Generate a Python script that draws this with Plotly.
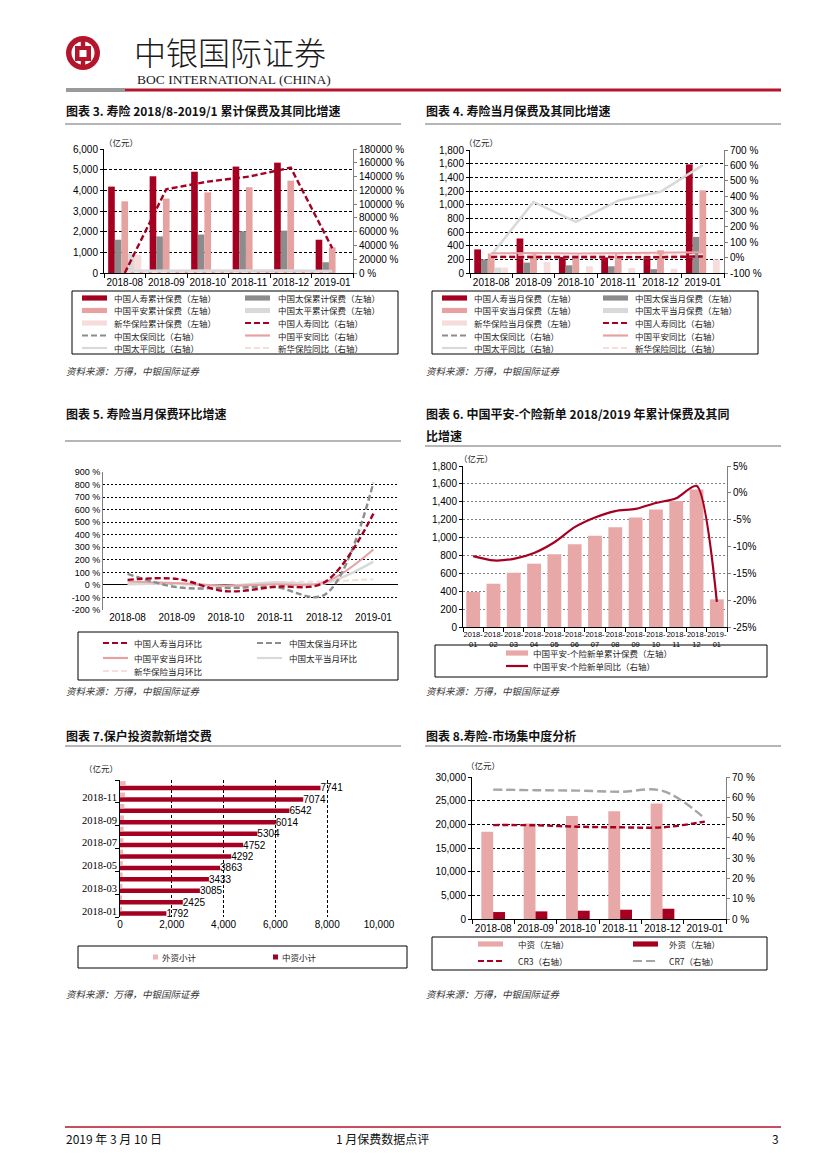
import plotly.graph_objects as go

W, H = 827, 1169
OFF = 8  # page body margin of the html page
def px(x): return (x - OFF) / W
def py(y): return 1 - (y - OFF) / H

RED = "#A50021"
GRAY = "#8C8C8C"
PINK = "#E6A1A1"
LGRAY = "#D9D9D9"
LPINK = "#F7DCDC"
CJK = "Noto Sans CJK SC"
NUM = "Liberation Sans Narrow, Liberation Sans, Arial"
SERIF = "Liberation Serif, Times New Roman, serif"

# ---------------- data ----------------
months6 = ["2018-08", "2018-09", "2018-10", "2018-11", "2018-12", "2019-01"]

# Chart 3: cumulative premiums (left, 亿元) and YoY (right, %)
c3_life = [4180, 4680, 4900, 5150, 5340, 1610]
c3_cpic = [1610, 1770, 1860, 2020, 2050, 520]
c3_pingan = [3470, 3600, 3900, 4150, 4470, 1240]
c3_taiping = [950, None, None, None, None, None]
c3_nci = [880, None, None, None, None, None]
c3_life_yoy = [0, 121600, 132700, 140000, 153000, 36000]
c3_cpic_yoy = [300, 300, 250, 300, 350, 150]
c3_pingan_yoy = [1500, 1800, 1700, 1600, 1500, 1200]
c3_taiping_yoy = [3200, 3600, 3400, 3500, 3600, 2800]
c3_nci_yoy = [600, 700, 650, 700, 700, 500]
c3_names = ["中国人寿累计保费（左轴）", "中国太保累计保费（左轴）", "中国平安累计保费（左轴）",
            "中国太平累计保费（左轴）", "新华保险累计保费（左轴）", "中国人寿同比（右轴）",
            "中国太保同比（右轴）", "中国平安同比（右轴）", "中国太平同比（右轴）", "新华保险同比（右轴）"]

# Chart 4: monthly premiums and YoY
c4_life = [345, 505, 235, 228, 245, 1590]
c4_cpic = [200, 152, 113, 98, 56, 528]
c4_pingan = [285, 308, 272, 292, 332, 1210]
c4_taiping = [80, None, None, None, None, None]
c4_nci = [80, 160, 98, 73, 64, 200]
c4_life_yoy = [5, 4, 3, 4, 3, 8]
c4_cpic_yoy = [2, 0, 1, 2, 1, 5]
c4_pingan_yoy = [28, 30, 27, 30, 32, 35]
c4_taiping_yoy = [15, 362, 232, 370, 428, 602]
c4_nci_yoy = [15, 14, 16, 17, 16, 20]
c4_names = ["中国人寿当月保费（左轴）", "中国太保当月保费（左轴）", "中国平安当月保费（左轴）",
            "中国太平当月保费（左轴）", "新华保险当月保费（左轴）", "中国人寿同比（右轴）",
            "中国太保同比（右轴）", "中国平安同比（右轴）", "中国太平同比（右轴）", "新华保险同比（右轴）"]
c4_rtickvals = [-100, 0, 100, 200, 300, 400, 500, 600, 700]
c4_rticktext = ["-100 %", "0%", "100 %", "200 %", "300 %", "400 %", "500 %", "600 %", "700 %"]

# Chart 5: month-on-month growth (%)
c5_life = [40, 48, -50, -15, 20, 568]
c5_cpic = [88, -18, -25, -18, -80, 815]
c5_pingan = [28, 15, -5, 5, 20, 283]
c5_taiping = [5, 10, -8, 22, 12, 185]
c5_nci = [12, 5, -10, 20, 28, 45]
c5_names = ["中国人寿当月环比", "中国太保当月环比", "中国平安当月环比", "中国太平当月环比", "新华保险当月环比"]
c5_tickvals = [-200, -100, 0, 100, 200, 300, 400, 500, 600, 700, 800, 900]
c5_ticktext = ["-200 %", "-100 %", "0 %", "100 %", "200 %", "300 %", "400 %", "500 %",
               "600 %", "700 %", "800 %", "900 %"]

# Chart 6: Ping An individual new business
months13 = ["2018-01", "2018-02", "2018-03", "2018-04", "2018-05", "2018-06", "2018-07",
            "2018-08", "2018-09", "2018-10", "2018-11", "2018-12", "2019-01"]
c6_prem = [391, 484, 607, 708, 812, 924, 1020, 1114, 1225, 1315, 1408, 1538, 309]
c6_yoy = [-11.8, -12.6, -12.3, -11.2, -9.2, -6.4, -4.6, -3.4, -3.0, -1.9, -1.0, 1.3, -20.3]
c6_names = ["中国平安-个险新单累计保费（左轴）", "中国平安-个险新单同比（右轴）"]
c6_rtickvals = [-25, -20, -15, -10, -5, 0, 5]
c6_rticktext = ["-25%", "-20%", "-15%", "-10%", "-5%", "0%", "5%"]

# Chart 7: new contributions to policyholder investment
months12 = months13[:12]
c7_domestic = [1792, 2425, 3085, 3433, 3863, 4292, 4752, 5304, 6014, 6542, 7074, 7741]
c7_foreign = [70, 80, 90, 100, 110, 120, 130, 140, 150, 170, 190, 220]
c7_names = ["外资小计", "中资小计"]

# Chart 8: market concentration
c8_domestic = [18440, 20200, 21740, 22790, 24400, None]
c8_foreign = [1470, 1610, 1750, 1960, 2170, None]
c8_cr3 = [46.3, 46.2, 45.5, 45.2, 45.2, 48.0]
c8_cr7 = [63.8, 63.5, 63.3, 62.7, 63.2, 49.6]
c8_names = ["中资（左轴）", "外资（左轴）", "CR3（右轴）", "CR7（右轴）"]

# ---------------- figure ----------------
fig = go.Figure()
shapes, annos = [], []

def bar(x, y, color, xa, ya, **kw):
    fig.add_trace(go.Bar(x=x, y=y, marker=dict(color=color, line=dict(width=0)),
                         xaxis=xa, yaxis=ya, showlegend=False, **kw))

def line(x, y, color, dash, xa, ya, width=2, shape="linear", smoothing=1.0):
    fig.add_trace(go.Scatter(x=x, y=y, mode="lines",
                             line=dict(color=color, dash=dash, width=width, shape=shape,
                                       smoothing=smoothing),
                             xaxis=xa, yaxis=ya, showlegend=False))

def rect(x0, y0, x1, y1, fill=None, color=None, width=0, shape="rect"):
    shapes.append(dict(type=shape, xref="paper", yref="paper", x0=px(x0), x1=px(x1),
                       y0=py(y1), y1=py(y0), fillcolor=fill if fill else "rgba(0,0,0,0)",
                       line=dict(color=color if color else "rgba(0,0,0,0)", width=width),
                       layer="above"))

def seg(x0, y0, x1, y1, color, width=1, dash="solid"):
    shapes.append(dict(type="line", xref="paper", yref="paper", x0=px(x0), x1=px(x1),
                       y0=py(y0), y1=py(y1), line=dict(color=color, width=width, dash=dash),
                       layer="above"))

def txt(x, y, s, size=9, anchor="left", family=CJK, color="#000", weight=None, style=None):
    f = dict(family=family, size=size, color=color)
    if weight: f["weight"] = weight
    if style: f["style"] = style
    annos.append(dict(x=px(x), y=py(y), xref="paper", yref="paper", text=s, showarrow=False,
                      xanchor=anchor, yanchor="middle", font=f, borderpad=0))

def legend(items, box, sw_x, tx_x, rows, sw_w=25, size=8.5):
    rect(*box, color="#000", width=1)
    n = len(sw_x)
    for i, (kind, color, dash, label) in enumerate(items):
        r, c = divmod(i, n)
        x, y = sw_x[c], rows[r]
        if kind == "bar":
            rect(x, y - 2.6, x + sw_w, y + 2.6, fill=color)
        elif kind == "sq":
            rect(x, y - 2.5, x + 5, y + 2.5, fill=color)
        else:
            seg(x, y, x + sw_w, y, color, 2.2, dash)
        txt(tx_x[c], y, label, size=size, color="#222")

# Chart 3
for vals, col in [(c3_life, RED), (c3_cpic, GRAY), (c3_pingan, PINK), (c3_taiping, LGRAY), (c3_nci, LPINK)]:
    bar(months6, vals, col, "x", "y")
line(months6, c3_cpic_yoy, GRAY, "6px,3px", "x", "y2")
line(months6, c3_pingan_yoy, PINK, "solid", "x", "y2")
line(months6, c3_taiping_yoy, LGRAY, "solid", "x", "y2", width=2.5)
line(months6, c3_nci_yoy, LPINK, "6px,3px", "x", "y2")
line(months6, c3_life_yoy, RED, "6px,3px", "x", "y2", width=2.4)
styles10 = [("bar", RED, None), ("bar", GRAY, None), ("bar", PINK, None), ("bar", LGRAY, None),
            ("bar", LPINK, None), ("line", RED, "6px,3px"), ("line", GRAY, "6px,3px"),
            ("line", PINK, "solid"), ("line", LGRAY, "solid"), ("line", LPINK, "6px,3px")]
legend([s + (n,) for s, n in zip(styles10, c3_names)], (72, 291, 398, 354),
       [82, 245], [113, 277], [298, 310.5, 323, 335.5, 348])

# Chart 4
for vals, col in [(c4_life, RED), (c4_cpic, GRAY), (c4_pingan, PINK), (c4_taiping, LGRAY), (c4_nci, LPINK)]:
    bar(months6, vals, col, "x2", "y3")
line(months6, c4_taiping_yoy, LGRAY, "solid", "x2", "y4", width=2.5)
line(months6, c4_pingan_yoy, PINK, "solid", "x2", "y4")
line(months6, c4_nci_yoy, LPINK, "6px,3px", "x2", "y4")
line(months6, c4_cpic_yoy, GRAY, "6px,3px", "x2", "y4")
line(months6, c4_life_yoy, RED, "6px,3px", "x2", "y4", width=2.4)
legend([s + (n,) for s, n in zip(styles10, c4_names)], (432, 291, 758, 354),
       [442, 603], [473, 634], [298, 310.5, 323, 335.5, 348])

# Chart 5
line(months6, c5_nci, LPINK, "6px,3px", "x3", "y5", shape="spline")
line(months6, c5_taiping, LGRAY, "solid", "x3", "y5", width=2.5, shape="spline")
line(months6, c5_pingan, PINK, "solid", "x3", "y5", shape="spline")
line(months6, c5_cpic, GRAY, "6px,3px", "x3", "y5", width=2.4, shape="spline")
line(months6, c5_life, RED, "6px,3px", "x3", "y5", width=2.4, shape="spline")
styles5 = [("line", RED, "6px,3px"), ("line", GRAY, "6px,3px"), ("line", PINK, "solid"),
           ("line", LGRAY, "solid"), ("line", LPINK, "6px,3px")]
legend([s + (n,) for s, n in zip(styles5, c5_names)], (78, 632, 398, 680),
       [103, 257], [133, 288], [643, 658, 671])

# Chart 6
bar(months13, c6_prem, "#E8A8A8", "x4", "y6", width=0.68)
line(months13, c6_yoy, RED, "solid", "x4", "y7", width=2.2, shape="spline", smoothing=0.7)
legend([("bar", "#E8A8A8", None, c6_names[0]), ("line", RED, "solid", c6_names[1])],
       (435, 645, 767, 677), [506], [532], [653, 666], sw_w=22)

# Chart 7
bar(c7_domestic, months12, RED, "x5", "y8", orientation="h", text=[str(v) for v in c7_domestic],
    textposition="outside", constraintext="none", cliponaxis=False,
    textfont=dict(family=NUM, size=10, color="#000"))
bar(c7_foreign, months12, "#F0B4B4", "x5", "y8", orientation="h")
legend([("sq", "#F0B4B4", None, c7_names[0]), ("sq", RED, None, c7_names[1])],
       (78, 946, 407, 968), [153, 273], [161, 281], [957])

# Chart 8
bar(months6, c8_domestic, "#E8A8A8", "x6", "y9", width=0.28, offset=-0.28)
bar(months6, c8_foreign, RED, "x6", "y9", width=0.28, offset=0.0)
line(months6, c8_cr7, "#A6A6A6", "9px,4px", "x6", "y10", width=2.4, shape="spline")
line(months6, c8_cr3, RED, "6px,3px", "x6", "y10", width=2.4, shape="spline")
legend([("bar", "#E8A8A8", None, c8_names[0]), ("bar", RED, None, c8_names[1]),
        ("line", RED, "6px,3px", c8_names[2]), ("line", "#A6A6A6", "9px,4px", c8_names[3])],
       (432, 937, 767, 970), [478, 633], [517, 668], [944, 961])

# ---------------- axes ----------------
TF = dict(family=NUM, size=10, color="#000")
def xcat(dom, anchor, **kw):
    d = dict(domain=[px(dom[0]), px(dom[1])], anchor=anchor, type="category", showline=True,
             linecolor="#000", linewidth=1, ticks="outside", tickson="boundaries", ticklen=4,
             tickcolor="#000", showgrid=False, zeroline=False, tickfont=TF, tickangle=0,
             automargin=False)
    d.update(kw); return d
def yleft(dom, anchor, rng, dtick, grid, gridcolor="#000", **kw):
    d = dict(domain=[py(dom[1]), py(dom[0])], anchor=anchor, range=rng, dtick=dtick,
             tickformat=",d", showline=True, linecolor="#000", linewidth=1, ticks="outside",
             ticklen=3, tickcolor="#000", showgrid=True, gridcolor=gridcolor, griddash=grid,
             gridwidth=1, zeroline=False, tickfont=TF, automargin=False)
    d.update(kw); return d
def yright(over, anchor, rng, **kw):
    d = dict(overlaying=over, side="right", anchor=anchor, range=rng, showline=True,
             linecolor="#7F7F7F", linewidth=1, ticks="outside", ticklen=3, tickcolor="#7F7F7F",
             showgrid=False, zeroline=False, tickfont=TF, automargin=False)
    d.update(kw); return d

layout = dict(
    template="none",
    width=W, height=H, margin=dict(l=0, r=0, t=0, b=0, pad=0, autoexpand=False),
    paper_bgcolor="white", plot_bgcolor="rgba(0,0,0,0)", barmode="group", bargap=0.2,
    bargroupgap=0, showlegend=False,
    xaxis=xcat((104, 353), "y"),
    yaxis=yleft((149, 273), "x", [0, 6000], 1000, "3px,2px"),
    yaxis2=yright("y", "x", [0, 180000], dtick=20000, tickformat="d", ticksuffix=" %"),
    xaxis2=xcat((470, 724), "y3"),
    yaxis3=yleft((150, 273), "x2", [0, 1800], 200, "3px,2px"),
    yaxis4=yright("y3", "x2", [-100, 700], tickvals=c4_rtickvals, ticktext=c4_rticktext),
    xaxis3=xcat((103, 398), "y5", showline=False, ticks="", range=[-0.5, 5.5]),
    yaxis5=yleft((472, 610), "x3", [-200, 900], None, "2px,2px", tickvals=c5_tickvals,
                 ticktext=c5_ticktext, zeroline=True, zerolinecolor="#000", zerolinewidth=1.2,
                 linecolor="#808080", ticks="", tickfont=dict(family=NUM, size=9, color="#000")),
    xaxis4=xcat((463, 727), "y6", tickfont=dict(family=NUM, size=7.5, color="#000"),
                tickvals=months13, ticktext=[m[:5] + "<br>" + m[5:] for m in months13]),
    yaxis6=yleft((466, 627), "x4", [0, 1800], 200, "2px,2px", gridcolor="#808080"),
    yaxis7=yright("y6", "x4", [-25, 5], tickvals=c6_rtickvals, ticktext=c6_rticktext),
    xaxis5=dict(domain=[px(120), px(379)], anchor="y8", range=[0, 10000], dtick=2000,
                tickformat=",d", showline=False, ticks="", showgrid=True, gridcolor="#000",
                griddash="3px,2px", gridwidth=1, zeroline=False, tickfont=TF, automargin=False),
    yaxis8=dict(domain=[py(917), py(780)], anchor="x5", type="category", dtick=2,
                tickson="boundaries", ticks="outside", ticklen=4, tickcolor="#000",
                showline=True, linecolor="#000", showgrid=False, zeroline=False,
                tickfont=dict(family=SERIF, size=10.5, color="#000"), automargin=False),
    xaxis6=xcat((472, 726), "y9"),
    yaxis9=yleft((777, 919), "x6", [0, 30000], 5000, "3px,2px"),
    yaxis10=yright("y9", "x6", [0, 70], dtick=10, ticksuffix=" %"),
)

# ---------------- page furniture ----------------
# logo
rect(66, 36, 100, 70, fill="#B5152B", shape="circle")
rect(71.5, 41.5, 94.5, 64.5, fill="white", shape="circle")
rect(80.8, 38, 85.2, 68, fill="#B5152B")
rect(75, 46, 91, 61, fill="#B5152B")
rect(79.5, 50, 86.5, 57, fill="white")
txt(133, 51, "中银国际证券", size=32, color="#1a1a1a", weight=300)
txt(136, 80, "BOC INTERNATIONAL (CHINA)", size=13.5, family=SERIF, color="#1a1a1a")
rect(66, 88, 125, 92, fill="#9A9A9A")
rect(125, 88.5, 781, 91.5, fill="#B5152B")

titles = [(65, 111, "图表 3. 寿险 2018/8-2019/1 累计保费及其同比增速"),
          (425, 111, "图表 4. 寿险当月保费及其同比增速"),
          (65, 413, "图表 5. 寿险当月保费环比增速"),
          (425, 413, "图表 6. 中国平安-个险新单 2018/2019 年累计保费及其同"),
          (425, 435, "比增速"),
          (65, 735, "图表 7.保户投资款新增交费"),
          (425, 735, "图表 8.寿险-市场集中度分析")]
for x, y, s in titles:
    txt(x, y, s, size=12, weight=700, color="#111")
for x0, x1, y in [(65, 401, 124), (425, 781, 124), (65, 401, 441), (425, 781, 446),
                  (65, 401, 746), (425, 781, 746)]:
    seg(x0, y, x1, y, "#6F6F6F", 1.2)

for x, y in [(103, 142), (463, 142), (458, 458), (83, 768), (465, 765)]:
    txt(x, y, "（亿元）", size=8.5, color="#222")

for x, y in [(65, 371), (425, 371), (65, 691), (425, 691), (65, 994), (425, 994)]:
    txt(x, y, "资料来源：万得，中银国际证券", size=9.5, color="#333", style="italic")

seg(65, 1127, 781, 1127, "#B5152B", 1.5)
txt(65, 1138, "2019 年 3 月 10 日", size=12, color="#111")
txt(335, 1138, "1 月保费数据点评", size=12, color="#111")
txt(780, 1138, "3", size=12, anchor="right", color="#111")

layout["shapes"] = shapes
layout["annotations"] = annos
fig.update_layout(**layout)
fig.write_html("out.html")
